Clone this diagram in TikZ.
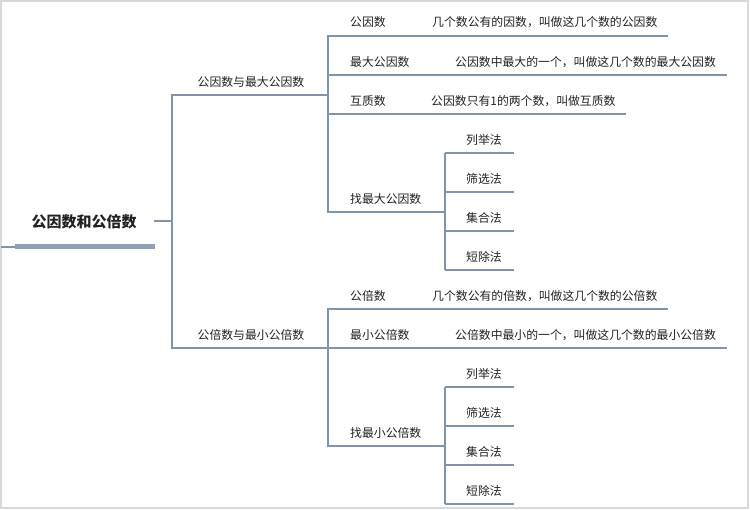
\documentclass[tikz,border=0pt]{standalone}
\usepackage{fontspec}
\newfontfamily\cjk{Noto Sans CJK SC}
\usepackage{tikz}
\definecolor{linec}{RGB}{128,148,170}
\definecolor{barc}{RGB}{142,160,178}
\definecolor{txtc}{RGB}{34,34,34}
\tikzset{every node/.append style={transform shape=false}}

\begin{document}
\begin{tikzpicture}[x=1pt,y=-1pt,
  ln/.style={draw=linec,line width=1.4pt},
  lbl/.style={anchor=west,inner sep=0pt,text=txtc,font=\cjk\fontsize{11.85}{13}\selectfont},
  mid/.style={lbl,anchor=center}]
  \useasboundingbox (0,0) rectangle (750,510);
  \draw[gray!30,line width=1.5pt] (1,1) rectangle (748,508);

  \node[anchor=center,inner sep=0pt,text=txtc,font=\cjk\bfseries\fontsize{15}{17}\selectfont] (root) at (84,222) {公因数和公倍数};
  \draw[barc,line width=5pt] (15,247) -- (155,247);
  \draw[ln] (1,247) -- (15,247);

  \coordinate (r0) at (154,221);
  \coordinate (r1) at (172,221);
  \coordinate (ua) at (172,95);
  \coordinate (la) at (172,348);
  \coordinate (ub) at (328,95);
  \coordinate (lb) at (328,348);
  \draw[ln] (r0) -- (r1);
  \draw[ln] (ub) -- (ua) -- (la) -- (lb);
  \node[mid] (gys) at (251,82) {公因数与最大公因数};
  \node[mid] (gbs) at (251,335) {公倍数与最小公倍数};

  \coordinate (u1) at (328,36);  \coordinate (u1e) at (668,36);
  \coordinate (u2) at (328,75);  \coordinate (u2e) at (727,75);
  \coordinate (u3) at (328,114); \coordinate (u3e) at (626,114);
  \coordinate (u4) at (328,212); \coordinate (u4e) at (445,212);
  \draw[ln] (u1e) -- (u1) -- (u4) -- (u4e);
  \draw[ln] (u2) -- (u2e);
  \draw[ln] (u3) -- (u3e);
  \node[lbl] (gy) at (350,22) {公因数};
  \node[lbl] (gyd) at (432,22) {几个数公有的因数，叫做这几个数的公因数};
  \node[lbl] (zd) at (350,62) {最大公因数};
  \node[lbl] (zdd) at (455,62) {公因数中最大的一个，叫做这几个数的最大公因数};
  \node[lbl] (hz) at (350,101) {互质数};
  \node[lbl] (hzd) at (431,101) {公因数只有1的两个数，叫做互质数};
  \node[lbl] (fz) at (350,199) {找最大公因数};

  \coordinate (ut) at (445,153);
  \coordinate (ub4) at (445,270);
  \draw[ln] (ut) -- (ub4);
  \foreach \t [count=\i] in {列举法,筛选法,集合法,短除法} {
    \coordinate (um\i) at (445,153+39*\i-39);
    \coordinate (ue\i) at (514,153+39*\i-39);
    \draw[ln] (um\i) -- (ue\i);
    \node[mid] (uf\i) at (484,140+39*\i-39) {\t};
  }

  \coordinate (l1) at (328,309);  \coordinate (l1e) at (668,309);
  \coordinate (l2e) at (727,348);
  \coordinate (l4) at (328,446); \coordinate (l4e) at (445,446);
  \draw[ln] (l1e) -- (l1) -- (l4) -- (l4e);
  \draw[ln] (lb) -- (l2e);
  \node[lbl] (gb) at (350,296) {公倍数};
  \node[lbl] (gbd) at (432,296) {几个数公有的倍数，叫做这几个数的公倍数};
  \node[lbl] (zx) at (350,335) {最小公倍数};
  \node[lbl] (zxd) at (455,335) {公倍数中最小的一个，叫做这几个数的最小公倍数};
  \node[lbl] (fx) at (350,433) {找最小公倍数};

  \coordinate (lt) at (445,387);
  \coordinate (lb4) at (445,504);
  \draw[ln] (lt) -- (lb4);
  \foreach \t [count=\i] in {列举法,筛选法,集合法,短除法} {
    \coordinate (lm\i) at (445,387+39*\i-39);
    \coordinate (le\i) at (514,387+39*\i-39);
    \draw[ln] (lm\i) -- (le\i);
    \node[mid] (lf\i) at (484,374+39*\i-39) {\t};
  }
\end{tikzpicture}
\end{document}
